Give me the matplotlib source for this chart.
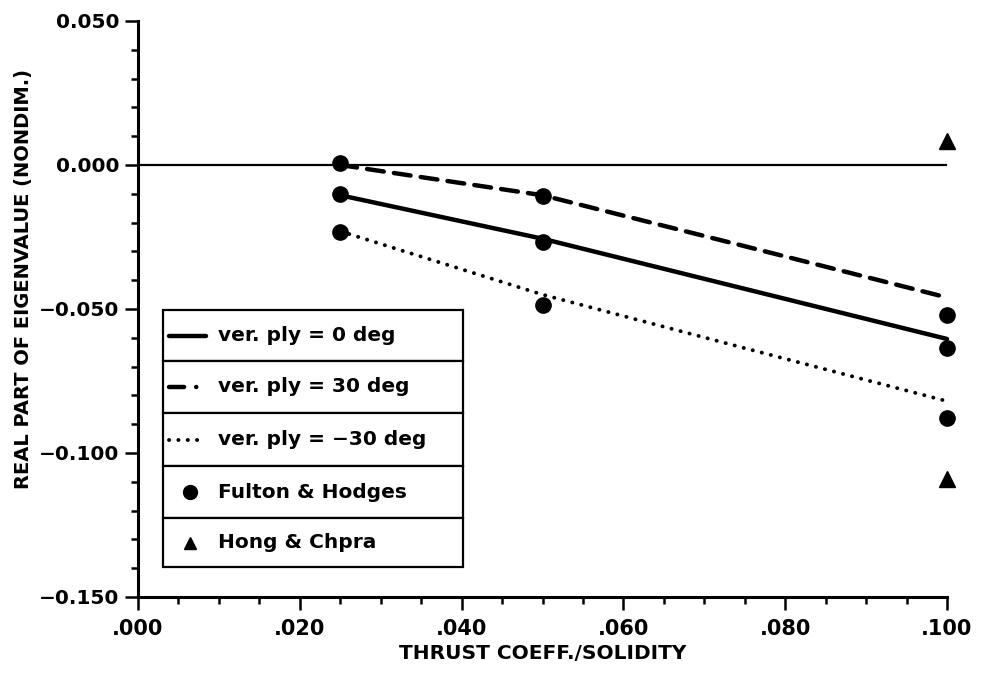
import matplotlib
matplotlib.use("Agg")
import matplotlib.pyplot as plt
from matplotlib.patches import Rectangle
from matplotlib.lines import Line2D

plt.rcParams['font.family'] = ['DejaVu Sans']

# ---- data ----
x_curve = [0.025, 0.050, 0.075, 0.100]
y_ply0 = [-0.0105, -0.0256, -0.0430, -0.0604]
y_ply30 = [0.0000, -0.0105, -0.0282, -0.0460]
y_plym30 = [-0.0230, -0.0450, -0.0636, -0.0820]

fulton_x = [0.025, 0.025, 0.025, 0.050, 0.050, 0.050, 0.100, 0.100, 0.100]
fulton_y = [0.0006, -0.0100, -0.0232, -0.0108, -0.0267, -0.0486, -0.0520, -0.0635, -0.0878]

hong_x = [0.100, 0.100]
hong_y = [0.0085, -0.1090]

x_ticks = [0.0, 0.02, 0.04, 0.06, 0.08, 0.10]
x_ticklabels = ['.000', '.020', '.040', '.060', '.080', '.100']
y_ticks = [0.05, 0.0, -0.05, -0.10, -0.15]
y_ticklabels = ['0.050', '0.000', '\u22120.050', '\u22120.100', '\u22120.150']

legend_labels = ['ver. ply = 0 deg', 'ver. ply = 30 deg', 'ver. ply = \u221230 deg',
                 'Fulton & Hodges', 'Hong & Chpra']

# ---- figure ----
fig = plt.figure(figsize=(9.81, 6.78), dpi=100)
ax = fig.add_axes([138/981, 1-597/678, (947-138)/981, (597-21)/678])

lw = 3.2
dash_style = (0, (3.8, 2.3))
dot_style = (0, (0.05, 2.35))
ax.axhline(0.0, xmin=0, xmax=1, color='black', lw=1.6, zorder=1)
ax.plot(x_curve, y_ply0, color='black', lw=lw, solid_capstyle='round', clip_on=False)
ax.plot(x_curve, y_ply30, color='black', lw=lw, linestyle=dash_style,
        dash_capstyle='round', clip_on=False)
ax.plot(x_curve, y_plym30, color='black', lw=2.8, linestyle=dot_style,
        dash_capstyle='round', clip_on=False)
ax.plot(fulton_x, fulton_y, 'o', color='black', ms=11, clip_on=False, zorder=5)
ax.plot(hong_x, hong_y, '^', color='black', ms=11, clip_on=False, zorder=5)

ax.set_xlim(0.0, 0.10)
ax.set_ylim(-0.15, 0.05)
ax.spines['top'].set_visible(False)
ax.spines['right'].set_visible(False)
ax.spines['left'].set_linewidth(2.2)
ax.spines['bottom'].set_linewidth(2.2)

ax.set_xticks(x_ticks)
ax.set_xticklabels(x_ticklabels, fontsize=15, fontweight='bold')
ax.set_yticks(y_ticks)
ax.set_yticklabels(y_ticklabels, fontsize=14.5, fontweight='bold')
ax.set_xticks([i * 0.005 for i in range(21)], minor=True)
ax.set_yticks([0.05 - i * 0.01 for i in range(21)], minor=True)
ax.tick_params(which='major', direction='out', length=9.5, width=1.8, pad=4)
ax.tick_params(which='minor', direction='out', length=5, width=1.8)
ax.tick_params(axis='x', which='major', pad=6)

ax.set_xlabel('THRUST COEFF./SOLIDITY', fontsize=14.5, fontweight='bold', labelpad=4)
ax.set_ylabel('REAL PART OF EIGENVALUE (NONDIM.)', fontsize=14, fontweight='bold')
ax.yaxis.set_label_coords(-0.130, 0.552)

# ---- boxed legend (one box per entry) ----
aw, ah = 809.0, 576.0
lx0 = 25 / aw
lx1 = 325 / aw
row_edges = [310, 361, 413, 466, 518, 567]
row_edges = [(597 - r) / ah for r in row_edges]
handles = [('line', '-'), ('line', (0, (3.4, 2.7, 0.05, 10))), ('line', dot_style),
           ('marker', 'o'), ('marker', '^')]
for i, label in enumerate(legend_labels):
    top = row_edges[i]
    bot = row_edges[i + 1]
    ax.add_patch(Rectangle((lx0, bot), lx1 - lx0, top - bot, transform=ax.transAxes,
                           fill=True, facecolor='white', edgecolor='black', lw=1.6,
                           zorder=6, clip_on=False))
    yc = (top + bot) / 2
    kind, style = handles[i]
    if kind == 'line':
        this_lw = 2.8 if i == 2 else lw
        ax.add_line(Line2D([31 / aw, 68 / aw], [yc, yc], transform=ax.transAxes,
                           color='black', lw=this_lw, linestyle=style,
                           dash_capstyle='round', solid_capstyle='round',
                           zorder=7, clip_on=False))
    else:
        ax.add_line(Line2D([52 / aw], [yc], transform=ax.transAxes, color='black',
                           marker=style, ms=10 if style == 'o' else 9, linestyle='none',
                           zorder=7, clip_on=False))
    ax.text(80 / aw, yc, label, transform=ax.transAxes, fontsize=14.5, fontweight='bold',
            va='center', ha='left', zorder=8)

fig.savefig('out.png', dpi=100, facecolor='white')
